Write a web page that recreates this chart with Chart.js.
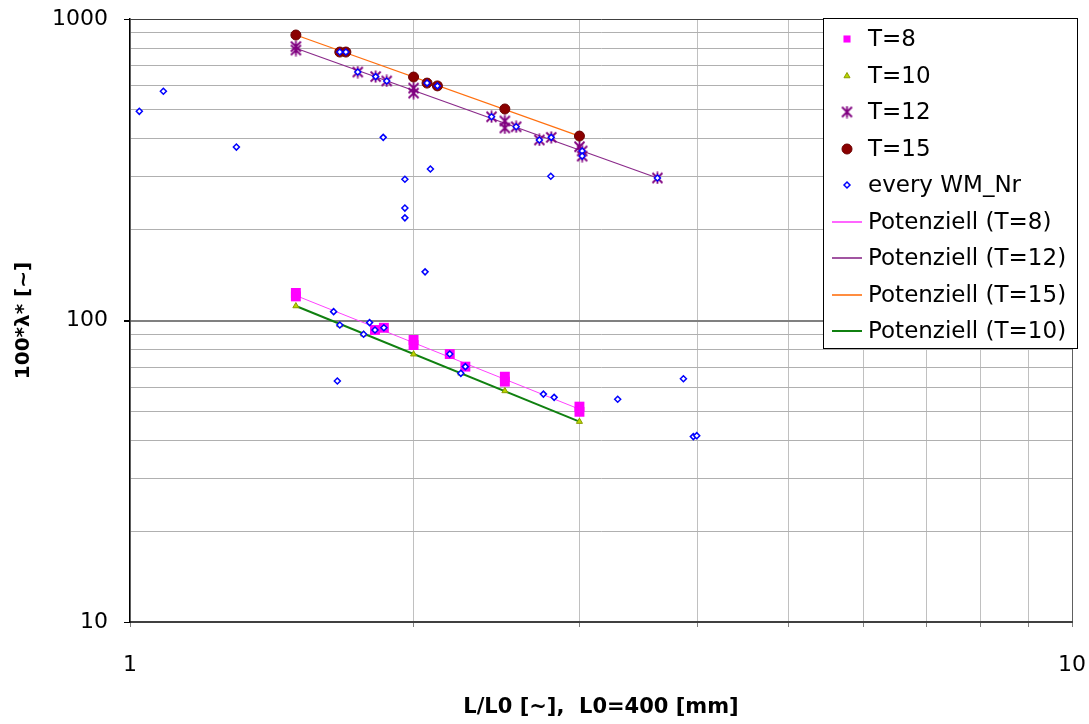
<!DOCTYPE html>
<html>
<head>
<meta charset="utf-8">
<script src="https://cdn.jsdelivr.net/npm/chart.js@4/dist/chart.umd.min.js"></script>
<style>
  body { margin: 0; background: #fff; }
  canvas { display: block; }
</style>
</head>
<body>
<canvas id="chart" width="1089" height="724"></canvas>
<script>
// values (log-log axes)
const xTicks = [1, 2, 3, 4, 5, 6, 7, 8, 9, 10];
const xLabels = [1, 10];
const yTicks = [10, 20, 30, 40, 50, 60, 70, 80, 90, 100, 200, 300, 400, 500, 600, 700, 800, 900, 1000];
const yLabels = [10, 100, 1000];

const t8X = [1.5, 1.5, 1.82, 1.86, 2.0, 2.0, 2.185, 2.27, 2.5, 2.5, 3.0, 3.0];
const t8Y = [123.4, 120.2, 93.0, 94.6, 86.2, 82.9, 77.4, 70.3, 65.1, 62.7, 51.8, 49.8];

const t10X = [1.5, 1.67, 1.77, 2.0, 2.245, 2.5, 3.0];
const t10Y = [111.7, 96.6, 90.0, 77.3, 66.8, 58.4, 46.2];

const t12X = [1.5, 1.5, 1.745, 1.823, 1.873, 2.0, 2.0, 2.42, 2.5, 2.5, 2.57, 2.72, 2.8, 3.0, 3.02, 3.02, 3.63];
const t12Y = [810, 789, 667, 644, 623, 590, 568, 474, 459, 435, 439, 397, 405, 377, 365, 351, 297];

const t15X = [1.5, 1.67, 1.695, 2.0, 2.067, 2.12, 2.5, 3.0];
const t15Y = [885, 777, 777, 642, 613, 600, 503, 409];

const wmX = [1.023, 1.085, 1.297, 1.857, 1.958, 2.084, 2.797, 1.958, 1.958, 2.057, 1.645, 1.796, 1.66, 2.747, 2.82, 3.294, 3.868, 3.963, 3.996,
             1.67, 1.695, 2.067, 2.12,
             1.745, 1.823, 1.873, 2.42, 2.57, 2.72, 2.8, 3.02, 3.02, 3.63,
             1.82, 1.86, 2.185, 2.27,
             1.67, 1.77, 2.245];
const wmY = [494, 576, 376, 405, 294, 318, 301, 236, 219, 145, 107, 98.4, 63, 57, 55.6, 54.8, 64.1, 41.2, 41.5,
             777, 777, 613, 600,
             667, 644, 623, 474, 439, 397, 405, 365, 351, 297,
             93, 94.6, 77.4, 70.3,
             96.6, 90, 66.8];

// power-law trend lines (straight on log-log), ends
const fit8X = [1.5, 3.0],  fit8Y = [121, 50.8];
const fit12X = [1.5, 3.63], fit12Y = [800, 297];
const fit15X = [1.5, 3.0], fit15Y = [885, 409];
const fit10X = [1.5, 3.0], fit10Y = [111.7, 46.2];

const pts = (xs, ys) => xs.map((x, i) => ({ x: x, y: ys[i] }));

// Excel style asterisk: an X with a vertical bar
function asterisk(size, color) {
    const c = document.createElement('canvas');
    c.width = size; c.height = size;
    const g = c.getContext('2d');
    const m = 1.5;
    g.strokeStyle = color;
    g.lineWidth = 1.8;
    g.beginPath();
    g.moveTo(m, m); g.lineTo(size - m, size - m);
    g.moveTo(size - m, m); g.lineTo(m, size - m);
    g.moveTo(size / 2, 0.5); g.lineTo(size / 2, size - 0.5);
    g.stroke();
    return c;
}

function markers(label, xs, ys, style, radius, fill, stroke, bw, order) {
    return {
        label: label, data: pts(xs, ys), showLine: false, order: order,
        pointStyle: style, pointRadius: radius, pointHoverRadius: radius,
        backgroundColor: fill, borderColor: stroke, borderWidth: bw
    };
}
function trend(label, xs, ys, color, width) {
    return {
        label: label, data: pts(xs, ys), showLine: true, order: 10,
        pointRadius: 0, borderColor: color, borderWidth: width, backgroundColor: color
    };
}

const datasets = [
    markers('T=8', t8X, t8Y, 'rect', 7, '#ff00ff', '#ff00ff', 0, 5),
    markers('T=10', t10X, t10Y, 'triangle', 3.5, '#b8d600', '#8c9c00', 1, 4),
    markers('T=12', t12X, t12Y, asterisk(13, '#800080'), 6, '#800080', '#800080', 1.5, 3),
    markers('T=15', t15X, t15Y, 'circle', 5, '#8b0000', '#6a0000', 1, 2),
    markers('every WM_Nr', wmX, wmY, 'rectRot', 3, '#ffffff', '#0000ff', 1.5, 1),
    trend('Potenziell (T=8)', fit8X, fit8Y, '#ff40ff', 1),
    trend('Potenziell (T=12)', fit12X, fit12Y, '#8a2a8a', 1.2),
    trend('Potenziell (T=15)', fit15X, fit15Y, '#ff7010', 1.3),
    trend('Potenziell (T=10)', fit10X, fit10Y, '#108010', 2)
];

// legend box drawn inside the plot like the original
const boxLegend = {
    id: 'boxLegend',
    afterDraw(chart) {
        const ctx = chart.ctx;
        const left = 823, top = 18, right = 1077, bottom = 348;
        ctx.save();
        ctx.fillStyle = '#fff';
        ctx.fillRect(left, top, right - left, bottom - top);
        ctx.strokeStyle = '#000';
        ctx.lineWidth = 1;
        ctx.strokeRect(left + 0.5, top + 0.5, right - left, bottom - top);
        ctx.font = "23px 'DejaVu Sans'";
        ctx.textBaseline = 'middle';
        chart.data.datasets.forEach((ds, i) => {
            const y = Math.round(39 + i * 36.5);
            if (ds.showLine) {
                ctx.strokeStyle = ds.borderColor;
                ctx.lineWidth = Math.max(ds.borderWidth, 1.6);
                ctx.beginPath();
                ctx.moveTo(832, y);
                ctx.lineTo(862, y);
                ctx.stroke();
            } else {
                ctx.fillStyle = ds.backgroundColor;
                ctx.strokeStyle = ds.borderColor;
                ctx.lineWidth = ds.borderWidth;
                Chart.helpers.drawPoint(ctx, {
                    pointStyle: ds.pointStyle, rotation: 0,
                    radius: Math.min(ds.pointRadius, 5), borderWidth: ds.borderWidth
                }, 847, y);
            }
            ctx.fillStyle = '#000';
            ctx.fillText(ds.label, 868, y + 1);
        });
        ctx.restore();
    }
};

new Chart(document.getElementById('chart'), {
    type: 'scatter',
    data: { datasets: datasets },
    plugins: [boxLegend],
    options: {
        responsive: false,
        animation: false,
        layout: { padding: { top: 19, right: 17, left: 0, bottom: 0 } },
        plugins: { legend: { display: false }, tooltip: { enabled: false } },
        scales: {
            x: {
                type: 'logarithmic', min: 1, max: 10,
                afterBuildTicks: s => { s.ticks = xTicks.map(v => ({ value: v })); },
                afterFit: s => { s.height = 102; s.paddingLeft = 0; s.paddingRight = 0; },
                ticks: {
                    autoSkip: false, maxRotation: 0, padding: 25, color: '#000',
                    font: { family: 'DejaVu Sans', size: 22 },
                    callback: v => xLabels.includes(v) ? String(v) : ''
                },
                grid: {
                    color: c => c.tick && c.tick.value === 10 ? '#606060' : '#c0c0c0',
                    tickColor: '#808080', tickLength: 5
                },
                border: { color: '#404040', width: 2 },
                title: {
                    display: true, text: 'L/L0 [~],  L0=400 [mm]', color: '#000',
                    font: { family: 'DejaVu Sans', size: 21, weight: 'bold' },
                    padding: { top: 0, bottom: 4 }
                }
            },
            y: {
                type: 'logarithmic', min: 10, max: 1000,
                afterBuildTicks: s => { s.ticks = yTicks.map(v => ({ value: v })); },
                afterFit: s => { s.width = 130; s.paddingTop = 0; s.paddingBottom = 0; },
                ticks: {
                    autoSkip: false, padding: 16, color: '#000',
                    font: { family: 'DejaVu Sans', size: 22 },
                    callback: v => yLabels.includes(v) ? String(v) : ''
                },
                grid: {
                    color: c => {
                        const v = c.tick && c.tick.value;
                        if (v === 100) return '#808080';
                        if (v === 1000) return '#404040';
                        return '#b0b0b0';
                    },
                    lineWidth: c => (c.tick && c.tick.value === 100) ? 2 : 1,
                    tickColor: c => yLabels.includes(c.tick && c.tick.value) ? '#000' : 'rgba(0,0,0,0)',
                    tickLength: 6
                },
                border: { color: '#000', width: 1.5 },
                title: {
                    display: true, text: '100*λ* [~]', color: '#000',
                    font: { family: 'DejaVu Sans', size: 20, weight: 'bold' },
                    padding: { top: 12, bottom: 0 }
                }
            }
        }
    }
});
</script>
</body>
</html>
